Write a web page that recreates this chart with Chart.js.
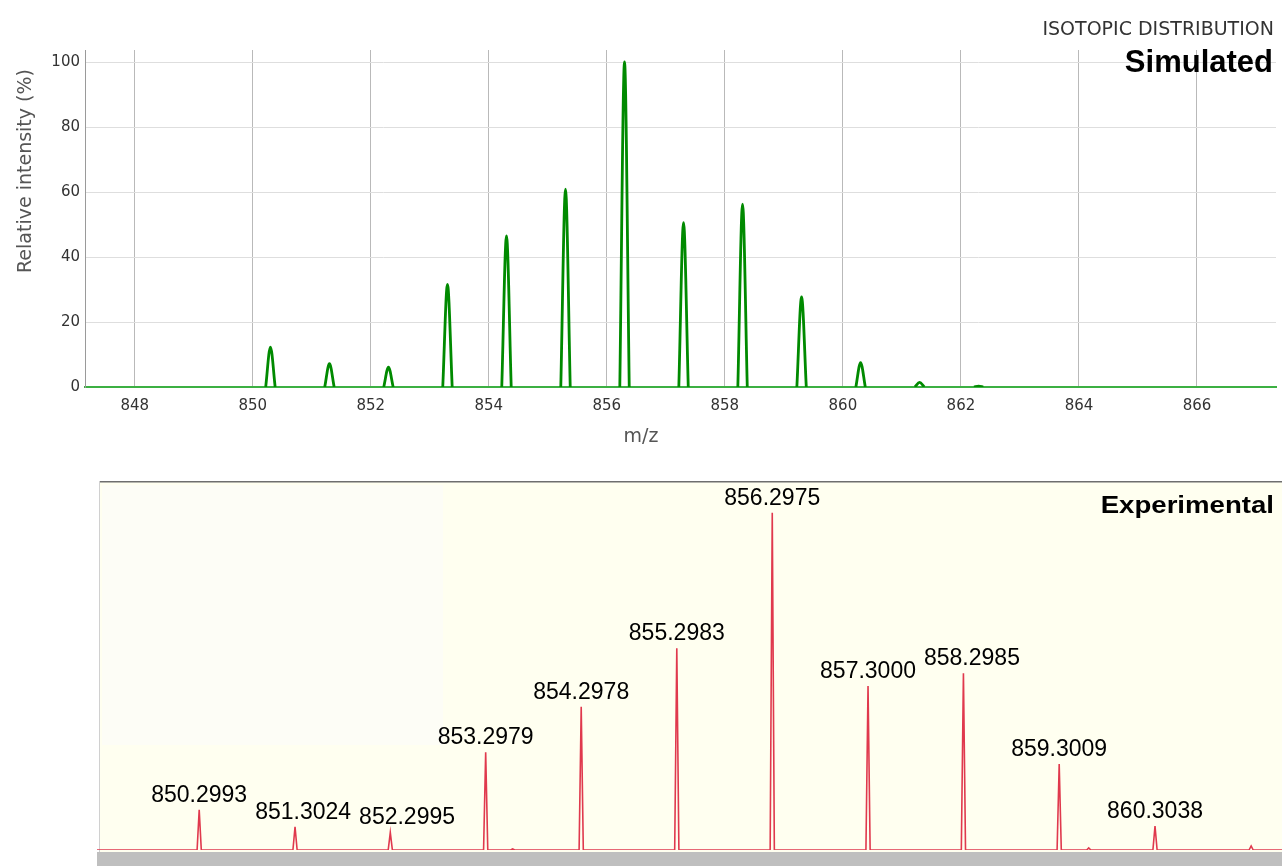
<!DOCTYPE html>
<html>
<head>
<meta charset="utf-8">
<script src="https://cdn.jsdelivr.net/npm/chart.js@4"></script>
<style>
  html, body { margin: 0; padding: 0; background: #ffffff; width: 1282px; height: 866px; overflow: hidden; }
  #sim { position: absolute; left: 0; top: 0; }
  #exp { position: absolute; left: 97px; top: 481px; }
</style>
</head>
<body>
<canvas id="sim" width="1282" height="470"></canvas>
<canvas id="exp" width="1185" height="385"></canvas>
<script>
// ---------- Simulated isotopic distribution ----------
const simMz = [850.3, 851.3, 852.3, 853.3, 854.3, 855.3, 856.3, 857.3, 858.3, 859.3, 860.3, 861.3, 862.3];
const simIntensity = [12.3, 7.2, 6.1, 31.6, 46.5, 60.9, 100, 50.6, 56.3, 27.7, 7.5, 1.4, 0.3];
const simXTicks = [848, 850, 852, 854, 856, 858, 860, 862, 864, 866];
const simYTicks = [0, 20, 40, 60, 80, 100];

// ---------- Experimental spectrum ----------
const expMz = [850.2993, 851.3024, 852.2995, 853.2979, 854.2978, 855.2983, 856.2975, 857.3000, 858.2985, 859.3009, 860.3038];
const expIntensity = [11.9, 6.9, 5.2, 29.0, 42.5, 59.8, 100, 48.6, 52.4, 25.5, 7.1];
const expLabels = ['850.2993', '851.3024', '852.2995', '853.2979', '854.2978', '855.2983', '856.2975', '857.3000', '858.2985', '859.3009', '860.3038'];
const expMinorMz = [853.58, 859.61, 861.31];
const expMinorIntensity = [0.3, 0.6, 1.2];

Chart.defaults.font.family = "'DejaVu Sans', sans-serif";
Chart.defaults.animation = false;

// build simulated profile: each stick becomes a narrow peak, gaps between
const simHalfWidth = 0.08;
const simPoints = [];
simMz.forEach((m, i) => {
  simPoints.push({x: m - simHalfWidth, y: 0}, {x: m, y: simIntensity[i]}, {x: m + simHalfWidth, y: 0}, {x: m + simHalfWidth + 0.001, y: null});
});

const simTextPlugin = {
  id: 'simText',
  afterDraw(chart) {
    const ctx = chart.ctx;
    ctx.save();
    ctx.fillStyle = '#333';
    ctx.font = "19px 'DejaVu Sans'";
    ctx.textAlign = 'right';
    ctx.textBaseline = 'alphabetic';
    ctx.fillText('ISOTOPIC DISTRIBUTION', 1274, 35);
    ctx.fillStyle = '#000';
    ctx.font = "bold 31px 'Liberation Sans', Arial";
    ctx.fillText('Simulated', 1273, 72);
    // axis titles
    ctx.fillStyle = '#555';
    ctx.font = "19px 'DejaVu Sans'";
    ctx.textAlign = 'center';
    ctx.fillText('m/z', 641, 442);
    ctx.translate(31, 171);
    ctx.rotate(-Math.PI / 2);
    ctx.fillText('Relative intensity (%)', 0, 0);
    ctx.restore();
  }
};

new Chart(document.getElementById('sim'), {
  type: 'line',
  data: {
    datasets: [{
      data: simPoints,
      borderColor: '#008a00',
      borderWidth: 2.8,
      pointRadius: 0,
      cubicInterpolationMode: 'monotone',
      spanGaps: false,
      fill: false
    }]
  },
  options: {
    responsive: false,
    animation: false,
    layout: { padding: { top: 50, right: 6, left: 0, bottom: 0 } },
    plugins: { legend: { display: false }, tooltip: { enabled: false } },
    scales: {
      x: {
        type: 'linear',
        min: 847.158,
        max: 867.339,
        afterBuildTicks: s => { s.ticks = simXTicks.map(v => ({value: v})); },
        ticks: { color: '#333', font: { size: 15 }, padding: 10, maxRotation: 0, autoSkip: false,
                 callback: v => String(v) },
        grid: { color: '#b9b9b9', drawTicks: false, lineWidth: 1 },
        border: { color: '#3cb043', width: 2 },
        afterFit: s => { s.height = 83; }
      },
      y: {
        min: 0,
        max: 103.7,
        afterBuildTicks: s => { s.ticks = simYTicks.map(v => ({value: v})); },
        ticks: { color: '#333', font: { size: 15 }, padding: 5, callback: v => String(v) },
        grid: { color: '#dedede', drawTicks: false, lineWidth: 1 },
        border: { color: '#9a9a9a', width: 1 },
        afterFit: s => { s.width = 85; }
      }
    }
  },
  plugins: [simTextPlugin]
});

// build experimental stick spectrum
const expXMin = 849.2296, expXMax = 861.633;
const expHalfWidth = 0.022;
const expAll = expMz.map((m, i) => ({m, h: expIntensity[i]}))
  .concat(expMinorMz.map((m, i) => ({m, h: expMinorIntensity[i]})))
  .sort((a, b) => a.m - b.m);
const expPoints = [{x: expXMin, y: 0}];
expAll.forEach(p => {
  expPoints.push({x: p.m - expHalfWidth, y: 0}, {x: p.m, y: p.h}, {x: p.m + expHalfWidth, y: 0});
});
expPoints.push({x: expXMax, y: 0});

const expPanelPlugin = {
  id: 'expPanel',
  beforeDraw(chart) {
    const ctx = chart.ctx;
    const a = chart.chartArea;
    const W = chart.width, H = chart.height;
    ctx.save();
    ctx.fillStyle = '#fffff0';
    ctx.fillRect(2, 0, W - 2, H);
    ctx.fillStyle = '#fdfdf6';
    ctx.fillRect(5, 4, 341, 260);
    // bottom grey bar
    ctx.fillStyle = '#bfbfbf';
    ctx.fillRect(0, a.bottom + 2, W, H - a.bottom - 2);
    // top border
    ctx.fillStyle = '#6e6e6e';
    ctx.fillRect(2, 0, W - 2, 1.5);
    // left border
    ctx.fillStyle = '#d0d0d0';
    ctx.fillRect(2, 0, 1, a.bottom + 2);
    ctx.restore();
  },
  afterDatasetsDraw(chart) {
    const ctx = chart.ctx;
    const xs = chart.scales.x, ys = chart.scales.y;
    ctx.save();
    ctx.fillStyle = '#000';
    ctx.font = "23px 'Liberation Sans', Arial";
    ctx.textAlign = 'center';
    ctx.textBaseline = 'alphabetic';
    // place labels above their peaks, nudging right when they would collide
    const placed = [];
    const gap = 8, capH = 17;
    expLabels.forEach((lab, i) => {
      const w = ctx.measureText(lab).width;
      let cx = xs.getPixelForValue(expMz[i]);
      const y = ys.getPixelForValue(expIntensity[i]) - 8;
      placed.forEach(b => {
        const vOverlap = (y - capH) <= b.y + 2 && y >= (b.y - capH) - 2;
        if (vOverlap && cx - w / 2 < b.right + gap) cx = b.right + gap + w / 2;
      });
      placed.push({right: cx + w / 2, y});
      ctx.fillText(lab, cx, y);
    });
    // panel title
    ctx.font = "bold 23px 'Liberation Sans', Arial";
    ctx.textAlign = 'right';
    ctx.translate(1177, 32);
    ctx.scale(1.2, 1);
    ctx.fillText('Experimental', 0, 0);
    ctx.restore();
  }
};

new Chart(document.getElementById('exp'), {
  type: 'line',
  data: {
    datasets: [{
      data: expPoints,
      borderColor: '#e0394d',
      borderWidth: 1.6,
      pointRadius: 0,
      tension: 0,
      fill: false
    }]
  },
  options: {
    responsive: false,
    animation: false,
    layout: { padding: { top: 0, right: 0, left: 0, bottom: 16 } },
    plugins: { legend: { display: false }, tooltip: { enabled: false } },
    scales: {
      x: { type: 'linear', min: expXMin, max: expXMax, display: false },
      y: { min: 0, max: 109.4, display: false }
    }
  },
  plugins: [expPanelPlugin]
});
</script>
</body>
</html>
